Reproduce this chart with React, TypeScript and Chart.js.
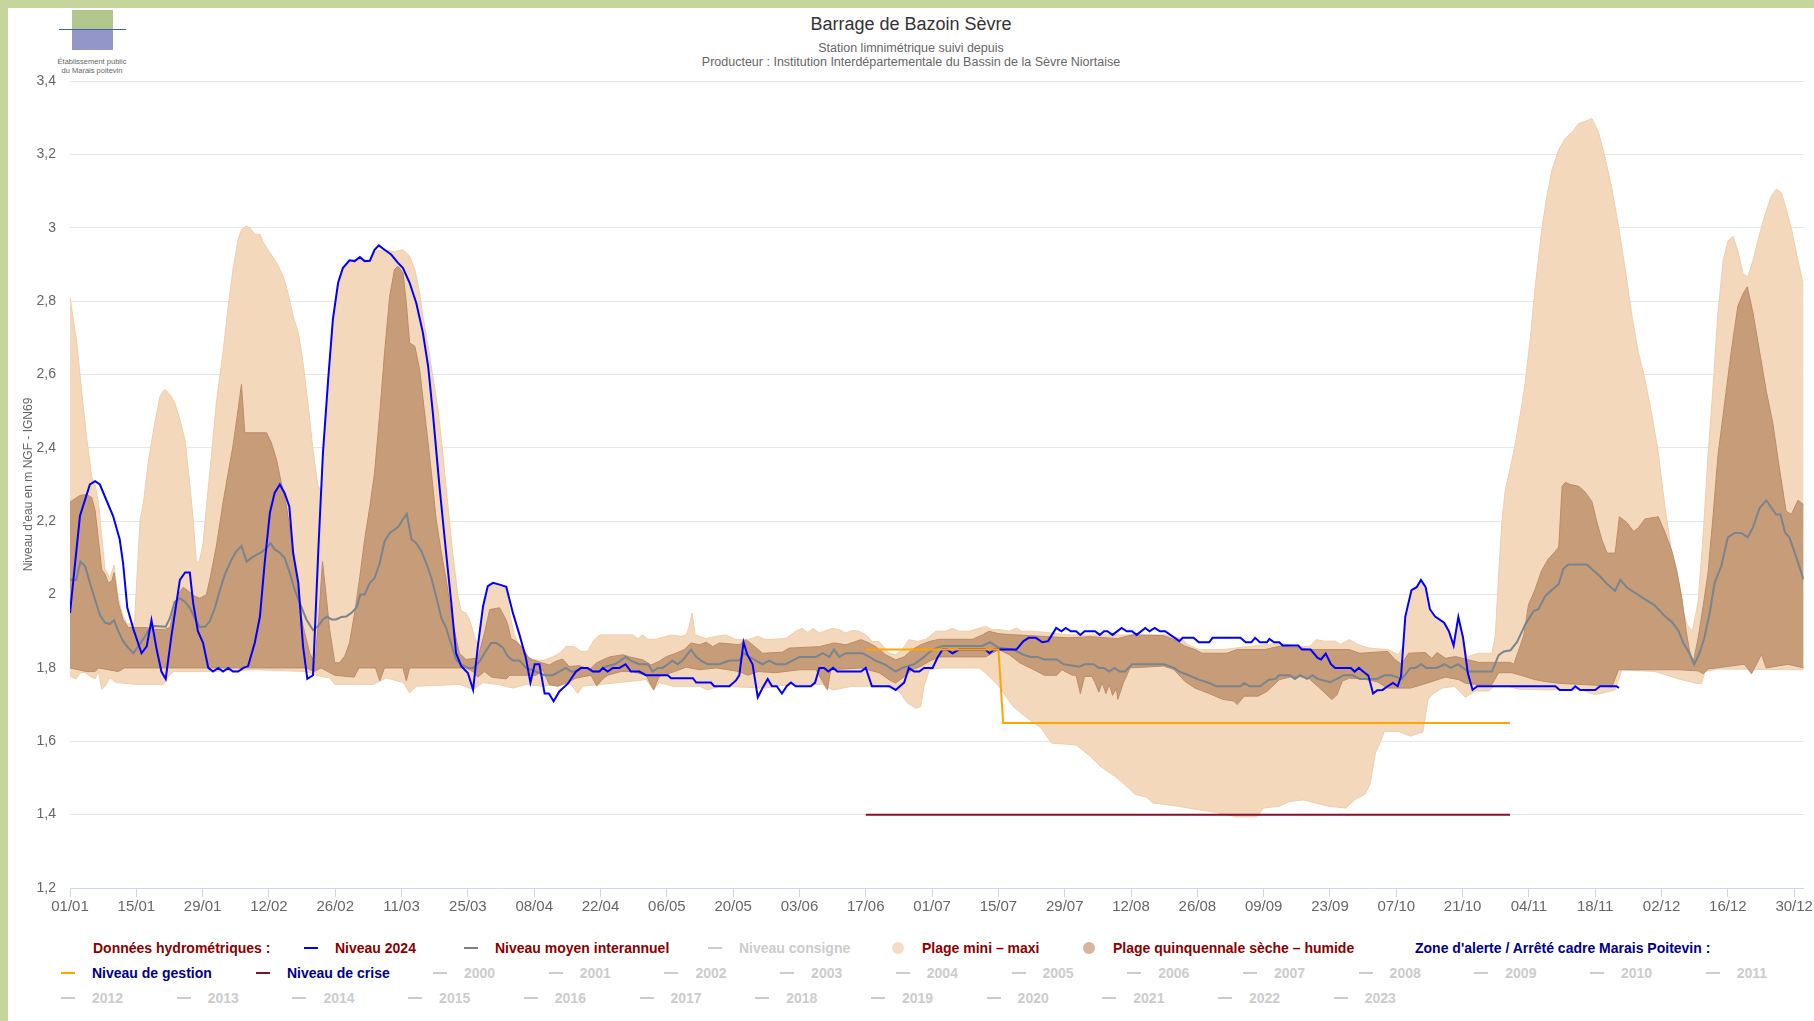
import React, { useEffect, useRef } from 'react';
import { Chart, registerables } from 'chart.js';

Chart.register(...registerables);

const FONT = "'Liberation Sans', Arial, sans-serif";

// ---------- DATA ----------
const xTickLabels = ['01/01', '15/01', '29/01', '12/02', '26/02', '11/03', '25/03', '08/04', '22/04', '06/05', '20/05', '03/06', '17/06', '01/07', '15/07', '29/07', '12/08', '26/08', '09/09', '23/09', '07/10', '21/10', '04/11', '18/11', '02/12', '16/12', '30/12'];
const yTickValues = [1.2, 1.4, 1.6, 1.8, 2, 2.2, 2.4, 2.6, 2.8, 3, 3.2, 3.4];

// [day of year 2024, level m NGF]
const niveau2024: [number, number][] = [[0,1.95],[2.1,2.214],[4.2,2.30],[5.3,2.309],[6.3,2.30],[9.1,2.214],[10.5,2.15],[11.2,2.086],[12.1,1.964],[13.4,1.905],[15.1,1.84],[16.2,1.859],[17.2,1.93],[18.3,1.85],[19.3,1.79],[20.2,1.77],[21.4,1.886],[23.2,2.04],[24.3,2.06],[25.3,2.06],[26,1.977],[27,1.90],[28.1,1.868],[29.2,1.80],[30.2,1.79],[31.3,1.80],[32.3,1.79],[33.4,1.80],[34.4,1.79],[35.5,1.79],[36.6,1.80],[37.6,1.805],[39,1.868],[40.1,1.94],[41.1,2.086],[42.2,2.223],[43.2,2.277],[44.3,2.30],[45.3,2.277],[46.3,2.24],[47.1,2.114],[48.2,2.032],[49.2,1.859],[50.1,1.77],[51.3,1.78],[52.4,2.114],[53.4,2.386],[54.5,2.586],[55.5,2.75],[56.6,2.85],[57.6,2.89],[59,2.911],[60.1,2.909],[61.2,2.92],[62.2,2.909],[63.3,2.91],[64.3,2.94],[65.2,2.952],[66.4,2.94],[67.8,2.927],[69.2,2.905],[70.3,2.89],[71.7,2.85],[73.1,2.795],[74.5,2.714],[75.6,2.623],[76.6,2.495],[78,2.295],[79.4,2.114],[80.5,1.977],[81.5,1.84],[82.6,1.805],[84,1.786],[85.1,1.74],[86.1,1.859],[87.2,1.968],[88.2,2.023],[89.3,2.032],[90.7,2.027],[92.1,2.021],[93.5,1.95],[94.9,1.89],[96.2,1.83],[97.2,1.76],[98.1,1.81],[99.1,1.81],[100.2,1.73],[101.1,1.73],[102.1,1.709],[103.3,1.736],[105.1,1.757],[106.8,1.79],[107.9,1.80],[109.3,1.80],[110.4,1.79],[111.8,1.79],[112.5,1.80],[113.5,1.79],[114.6,1.80],[116,1.80],[117.3,1.81],[118.4,1.79],[120.2,1.79],[121.6,1.78],[126.2,1.78],[126.9,1.772],[131.5,1.772],[132.2,1.76],[135.3,1.76],[136,1.75],[139.2,1.75],[140.6,1.766],[141.3,1.78],[142.2,1.87],[143,1.836],[144.1,1.81],[145.2,1.72],[146.2,1.745],[147.3,1.77],[148.2,1.75],[149.2,1.75],[150.3,1.73],[151.3,1.75],[152.2,1.76],[153.2,1.75],[156.4,1.75],[157.3,1.76],[158.2,1.80],[159.2,1.80],[160.1,1.79],[161.1,1.80],[162,1.79],[167,1.79],[168,1.80],[169.3,1.75],[173,1.75],[174.3,1.74],[176.1,1.76],[177.1,1.80],[178.2,1.79],[179.3,1.79],[180.3,1.80],[182.1,1.80],[183.1,1.827],[184.2,1.85],[185.2,1.85],[186.3,1.84],[187.7,1.85],[193.3,1.85],[194.1,1.84],[195.1,1.85],[199.8,1.85],[201.3,1.873],[202.4,1.882],[203.9,1.882],[205.3,1.87],[206.5,1.873],[207.2,1.888],[208.2,1.909],[209.3,1.90],[210.2,1.909],[211.3,1.90],[212.4,1.90],[213.3,1.89],[214.2,1.90],[216.4,1.90],[217.4,1.89],[218.3,1.90],[219,1.90],[220.1,1.89],[222,1.909],[223.1,1.90],[224.2,1.90],[225.2,1.89],[227,1.909],[227.9,1.90],[229,1.909],[230.1,1.90],[231.2,1.90],[234.2,1.873],[234.9,1.882],[237.2,1.882],[238.3,1.87],[240.5,1.87],[241.2,1.882],[247.1,1.882],[248.2,1.87],[249.4,1.87],[250.2,1.882],[251.2,1.87],[252.7,1.87],[253.2,1.879],[254.2,1.87],[255.3,1.87],[256,1.861],[259.3,1.861],[260.1,1.85],[261.9,1.85],[263.4,1.827],[264.1,1.823],[265.1,1.839],[266.2,1.81],[267.1,1.80],[270.4,1.80],[271.2,1.79],[272.1,1.80],[273,1.79],[274.1,1.779],[275.1,1.73],[276,1.739],[277.1,1.74],[278.2,1.75],[279.3,1.759],[280.3,1.75],[281,1.777],[281.9,1.94],[283.2,2.012],[284.3,2.02],[285.2,2.04],[286.2,2.02],[287.1,1.96],[288.2,1.94],[290.1,1.923],[291.1,1.90],[292.1,1.861],[293.1,1.939],[294.1,1.882],[295.1,1.786],[296.1,1.74],[297.1,1.75],[313.6,1.75],[314.5,1.74],[317,1.74],[317.8,1.75],[318.8,1.74],[322,1.74],[323,1.75],[326.5,1.75],[327,1.745]];

const niveauMoyen: [number, number][] = [[0,2.04],[1.3,2.04],[2.2,2.09],[3.2,2.077],[4.2,2.032],[5.3,1.986],[6.3,1.945],[7.4,1.923],[8.4,1.92],[9.3,1.93],[10.2,1.90],[11.2,1.873],[12.3,1.855],[13.4,1.84],[14.4,1.859],[15.5,1.879],[16.9,1.909],[17.9,1.914],[20.2,1.912],[21.1,1.936],[22.1,1.98],[23.2,1.99],[24.3,1.98],[25.3,1.964],[26.4,1.934],[27.3,1.912],[28.5,1.912],[29.5,1.927],[30.6,1.964],[31.6,2.01],[32.7,2.055],[34.1,2.095],[35.1,2.118],[36.2,2.132],[37.3,2.09],[38.3,2.10],[39.4,2.109],[40.4,2.115],[41.5,2.127],[42.3,2.14],[43.2,2.123],[44.3,2.114],[45.3,2.10],[46.4,2.059],[47.4,2.014],[48.5,1.977],[49.9,1.932],[51.3,1.903],[52.4,1.914],[53.4,1.932],[54.3,1.94],[55.2,1.932],[56.2,1.932],[57.3,1.939],[58.3,1.94],[59.4,1.95],[60.5,1.965],[61.3,2.0],[62.2,2.0],[63.3,2.032],[64.3,2.045],[65.4,2.086],[66.4,2.145],[67.5,2.168],[68.5,2.177],[69.4,2.186],[70.3,2.205],[71.1,2.22],[72.1,2.15],[73.1,2.14],[74.2,2.118],[75.2,2.086],[76.3,2.045],[77.3,1.995],[78.4,1.936],[79.4,1.909],[80.5,1.864],[81.5,1.823],[82.6,1.809],[84,1.80],[85.1,1.80],[86.5,1.818],[87.5,1.84],[88.9,1.868],[90,1.868],[91.4,1.855],[92.4,1.832],[93.5,1.82],[94.9,1.82],[96.3,1.80],[97.4,1.795],[100.2,1.78],[101.9,1.78],[103.3,1.79],[104.7,1.80],[105.8,1.79],[106.8,1.79],[107.9,1.80],[109,1.80],[110.4,1.79],[111.4,1.79],[113.2,1.804],[115,1.81],[116,1.818],[117.3,1.83],[118.4,1.82],[120.2,1.81],[122,1.81],[123,1.79],[124.1,1.80],[125.1,1.80],[126.2,1.81],[127.2,1.82],[128.3,1.81],[129.3,1.82],[131.1,1.85],[132.2,1.83],[133.2,1.82],[134.6,1.81],[137.1,1.81],[139.2,1.82],[141.3,1.82],[142.3,1.84],[143.4,1.83],[144.8,1.82],[146.2,1.81],[147.6,1.82],[149,1.81],[151.1,1.81],[152.5,1.82],[154,1.83],[157.5,1.83],[158.9,1.84],[160.3,1.83],[161.3,1.85],[162.4,1.83],[163.8,1.84],[167.3,1.84],[168.7,1.83],[170.1,1.82],[171.9,1.81],[174.3,1.79],[175.7,1.80],[178.2,1.81],[180.3,1.83],[182.1,1.85],[184.2,1.86],[192.6,1.86],[194.2,1.87],[195.4,1.86],[196.1,1.855],[199.1,1.85],[201.3,1.836],[202.8,1.83],[204.2,1.83],[205.7,1.823],[208.3,1.823],[209.8,1.81],[213.1,1.803],[214.2,1.81],[216.1,1.81],[217.2,1.80],[218.3,1.80],[219.4,1.79],[220.5,1.80],[221.6,1.79],[222.7,1.79],[224.2,1.81],[230.9,1.81],[233.1,1.80],[234.2,1.79],[236.2,1.78],[238.3,1.768],[240.5,1.759],[242,1.75],[247.1,1.75],[247.9,1.759],[249,1.75],[251.2,1.75],[253.1,1.768],[254.5,1.77],[255.3,1.78],[257.5,1.78],[258.6,1.77],[259.7,1.78],[261.2,1.77],[262.3,1.78],[263.4,1.77],[266,1.761],[267.5,1.77],[268.9,1.78],[270.8,1.78],[272.3,1.77],[276,1.77],[277.5,1.78],[279,1.78],[281.2,1.77],[283,1.80],[284.1,1.80],[285.2,1.81],[286.3,1.80],[288.5,1.80],[290.2,1.81],[291.5,1.80],[293,1.81],[295.2,1.79],[300.2,1.79],[301.6,1.835],[302.7,1.845],[304.1,1.848],[305.5,1.871],[307.2,1.918],[309,1.955],[310,1.96],[311.5,1.997],[312.9,2.013],[314.3,2.029],[315.3,2.071],[316.4,2.082],[320.2,2.082],[323,2.05],[324.5,2.029],[326.2,2.01],[327.3,2.04],[328.7,2.019],[331.8,1.993],[334.6,1.97],[336.7,1.941],[338.2,1.925],[339.6,1.90],[340.5,1.87],[341.9,1.84],[342.9,1.81],[344,1.84],[345,1.88],[346.2,1.952],[347.2,2.032],[348.6,2.077],[350,2.156],[351.4,2.168],[352.8,2.168],[354.2,2.156],[355.3,2.183],[356.7,2.236],[358.1,2.257],[360.2,2.218],[361.1,2.218],[362.1,2.168],[363,2.156],[364.4,2.103],[366,2.041]];

const plageMax: [number, number][] = [[0,2.81],[1.4,2.69],[2.5,2.55],[3.5,2.43],[4.6,2.32],[5.3,2.30],[6,2.25],[7,2.12],[7.4,2.07],[8.4,2.045],[9.3,2.08],[10.2,1.99],[11.2,1.94],[12.1,1.92],[13.6,1.92],[14.8,2.205],[15.5,2.25],[16.5,2.36],[17.9,2.468],[19,2.54],[20,2.56],[21.1,2.545],[22.1,2.523],[23.2,2.477],[24.3,2.42],[25.3,2.30],[26,2.205],[26.7,2.086],[27.4,2.095],[28.1,2.14],[28.8,2.24],[29.9,2.386],[30.9,2.523],[32.3,2.66],[33.4,2.786],[34.4,2.886],[35.5,2.968],[36.2,2.995],[37.3,3.005],[38.3,2.995],[39,2.982],[40.1,2.982],[40.8,2.96],[42.2,2.932],[43.6,2.905],[45,2.868],[46,2.823],[47.1,2.76],[48.2,2.714],[49.2,2.632],[50.3,2.514],[51.3,2.395],[52.3,2.30],[53,2.28],[53.4,2.386],[54.5,2.586],[55.5,2.75],[56.6,2.85],[57.6,2.89],[59,2.91],[61.2,2.915],[63.3,2.91],[64.3,2.935],[66.4,2.94],[68.5,2.935],[70.3,2.94],[71.7,2.923],[72.8,2.886],[73.8,2.823],[74.5,2.76],[75.6,2.677],[76.6,2.595],[77.7,2.505],[78.7,2.386],[79.8,2.24],[80.8,2.114],[81.9,1.995],[82.6,1.955],[83.6,1.95],[84.4,1.93],[85.4,1.886],[86.1,1.86],[87.2,1.968],[88.2,2.023],[89.3,2.032],[90.7,2.027],[92.1,2.021],[92.8,1.95],[93.8,1.89],[94.9,1.86],[95.6,1.84],[96.7,1.825],[99.1,1.82],[100.2,1.822],[101.9,1.83],[103.3,1.84],[104.7,1.858],[106.5,1.858],[107.9,1.845],[109.3,1.845],[110.4,1.872],[111.4,1.886],[112.1,1.89],[118.8,1.89],[119.9,1.88],[120.9,1.89],[122,1.878],[123.7,1.878],[125.8,1.886],[127.2,1.89],[129,1.886],[130.1,1.89],[130.7,1.913],[131.3,1.95],[132,1.89],[134.3,1.88],[136.4,1.886],[138.5,1.89],[140.6,1.877],[143.1,1.877],[145.2,1.886],[146.9,1.877],[151.1,1.88],[153.2,1.90],[154.6,1.908],[155.7,1.896],[156.8,1.908],[158.2,1.895],[159.6,1.902],[161,1.908],[162.4,1.904],[163.8,1.895],[165.2,1.902],[166.6,1.90],[168,1.89],[169.4,1.872],[170.8,1.872],[172.9,1.84],[174.3,1.836],[175.7,1.85],[177.1,1.877],[178.9,1.872],[180.7,1.878],[182.8,1.90],[184.9,1.90],[186.3,1.908],[187.7,1.90],[189.8,1.90],[191.9,1.908],[193.3,1.913],[194.7,1.904],[196.1,1.905],[198.3,1.90],[199.8,1.909],[200.9,1.90],[203.5,1.90],[207.2,1.895],[210.9,1.89],[231.6,1.89],[234.6,1.88],[236,1.864],[238.3,1.85],[243.4,1.85],[247.9,1.857],[253,1.864],[255.3,1.868],[259.7,1.857],[261.9,1.86],[263,1.877],[264.9,1.873],[267.1,1.873],[268.2,1.864],[270.1,1.877],[271.9,1.864],[273.8,1.855],[276,1.852],[278.2,1.85],[280.4,1.836],[281.5,1.86],[281.9,1.94],[283.2,2.012],[284.3,2.02],[285.2,2.04],[286.2,2.02],[287.1,1.96],[288.2,1.94],[290.1,1.923],[291.1,1.90],[292.1,1.861],[293.1,1.939],[294.1,1.882],[294.9,1.83],[297.4,1.84],[300.2,1.84],[300.9,1.888],[301.6,2.055],[302.3,2.20],[303,2.285],[304.1,2.347],[305.1,2.41],[306.2,2.493],[307.2,2.577],[308.3,2.70],[309.3,2.837],[310.7,2.994],[311.8,3.088],[312.9,3.16],[314.3,3.213],[315.7,3.244],[317.1,3.26],[318.5,3.284],[319.9,3.29],[321.3,3.298],[322.7,3.26],[324.1,3.19],[325.5,3.108],[326.9,3.004],[328.3,2.89],[329.7,2.764],[331.1,2.66],[332.5,2.587],[333.9,2.493],[335.3,2.389],[336.7,2.24],[338.2,2.11],[339.6,2.03],[340.5,1.96],[341.3,1.92],[342.5,1.90],[343.7,1.979],[344.8,2.165],[345.8,2.378],[346.9,2.573],[347.9,2.768],[349,2.91],[350,2.963],[351.1,2.977],[352.1,2.937],[353.2,2.875],[354.2,2.866],[355.3,2.91],[356.3,2.963],[357.8,3.034],[359.2,3.087],[360.2,3.105],[361.3,3.096],[362.3,3.052],[363.4,2.999],[364.8,2.91],[366,2.84]];

const plageMin: [number, number][] = [[0,1.777],[1.3,1.77],[2.1,1.786],[3.2,1.788],[4.2,1.777],[5.3,1.77],[6,1.79],[6.7,1.741],[7.4,1.75],[8.4,1.773],[9.8,1.76],[14.1,1.755],[19.7,1.755],[20.7,1.775],[21.8,1.79],[28.8,1.79],[39.4,1.795],[49.9,1.79],[52.7,1.777],[54.8,1.773],[55.9,1.755],[64,1.755],[66.8,1.773],[70.3,1.76],[71.7,1.732],[73.1,1.75],[82.2,1.755],[85.1,1.741],[87.2,1.76],[90.7,1.754],[93.5,1.745],[96.3,1.755],[99.8,1.75],[105.1,1.76],[106.1,1.75],[107.2,1.73],[108.3,1.75],[121.6,1.768],[123.2,1.74],[124.4,1.76],[127.2,1.75],[132.9,1.75],[134.6,1.74],[137.1,1.75],[146.9,1.745],[149,1.75],[152.5,1.755],[158.9,1.755],[161,1.74],[165.2,1.75],[172.2,1.75],[175,1.736],[176.8,1.704],[178.6,1.69],[179.6,1.695],[180.3,1.75],[181.4,1.795],[184.2,1.80],[189.1,1.80],[191.9,1.80],[193.3,1.786],[196.1,1.75],[199.1,1.695],[202,1.664],[205,1.636],[207.2,1.595],[212.4,1.59],[215.3,1.56],[217.5,1.532],[220.5,1.505],[222.7,1.482],[224.9,1.455],[227.2,1.448],[228.6,1.432],[233.8,1.423],[237.5,1.415],[242,1.406],[246.4,1.394],[250.5,1.394],[252,1.418],[255.3,1.423],[257.5,1.436],[260.4,1.44],[265.6,1.423],[269.3,1.418],[271.5,1.443],[273.4,1.455],[274.5,1.486],[275.6,1.568],[276.7,1.60],[277.5,1.627],[280.4,1.627],[283,1.614],[285.6,1.625],[286.7,1.714],[287.8,1.73],[289.7,1.745],[292.3,1.75],[294.6,1.72],[296.7,1.737],[299.5,1.737],[300.9,1.753],[303,1.753],[305.8,1.742],[311.4,1.74],[318.5,1.742],[322,1.727],[326.2,1.74],[327.6,1.795],[334.6,1.79],[339.6,1.77],[343.7,1.757],[344.4,1.757],[345.2,1.79],[347.9,1.797],[366,1.795]];

const quinqHumide: [number, number][] = [[0,2.252],[2.1,2.27],[3.5,2.273],[4.6,2.264],[5.3,2.23],[6,2.15],[6.7,2.068],[7.4,2.055],[8.1,2.032],[8.8,2.036],[9.3,2.06],[10.2,1.977],[11.2,1.932],[12.3,1.91],[16,1.91],[18,1.905],[20,1.905],[21.1,1.91],[21.8,1.95],[22.8,2.0],[23.9,2.02],[26.4,1.995],[27.4,1.99],[28.8,2.0],[29.5,2.04],[30.9,2.132],[32.3,2.25],[33.4,2.332],[34.4,2.405],[35.5,2.505],[36.2,2.573],[36.9,2.441],[41.5,2.441],[42.5,2.414],[43.6,2.368],[44.6,2.305],[45.7,2.24],[47.1,2.123],[48.2,1.995],[49.2,1.914],[50.6,1.84],[51.7,1.814],[52.6,1.95],[53.3,2.09],[54.1,1.995],[54.8,1.905],[55.9,1.814],[56.9,1.814],[58,1.832],[59,1.868],[60.1,1.95],[61.2,2.05],[62.2,2.15],[63.3,2.24],[64.3,2.332],[65.4,2.495],[66.4,2.659],[67.5,2.814],[68.5,2.886],[69.2,2.895],[70.3,2.877],[71,2.795],[71.7,2.686],[72.8,2.677],[73.8,2.614],[75.2,2.459],[76.3,2.332],[77.3,2.205],[78.4,2.114],[79.4,2.041],[80.8,1.923],[82.2,1.84],[83.6,1.823],[86.1,1.827],[87.5,1.895],[88.6,1.959],[90.7,1.964],[91.7,1.94],[92.4,1.92],[93.1,1.88],[94.2,1.872],[95.6,1.854],[96.7,1.83],[97.7,1.822],[99.8,1.813],[101.2,1.808],[102.6,1.818],[104,1.824],[105.4,1.804],[107.6,1.806],[109.7,1.795],[111.1,1.813],[112.5,1.822],[113.9,1.83],[116.8,1.836],[118.1,1.83],[120.9,1.822],[122.7,1.808],[124.4,1.818],[125.8,1.83],[127.9,1.84],[129.7,1.85],[131.1,1.868],[132.9,1.863],[134.3,1.87],[135.7,1.858],[137.1,1.868],[141.3,1.863],[142.7,1.877],[144.1,1.863],[146.2,1.84],[150.4,1.843],[151.8,1.854],[158.2,1.858],[161.3,1.868],[163.8,1.863],[167,1.877],[168.7,1.868],[170.1,1.858],[172.2,1.836],[174.3,1.822],[176.1,1.83],[177.8,1.85],[179.6,1.863],[181.4,1.872],[183.5,1.878],[190.5,1.878],[192.6,1.89],[194,1.90],[196.1,1.893],[199.8,1.89],[210.9,1.882],[215.3,1.885],[221.2,1.88],[224.2,1.89],[230.9,1.888],[233.1,1.877],[235.3,1.86],[237.5,1.85],[239,1.84],[244.2,1.84],[246.4,1.85],[252.3,1.85],[255.3,1.859],[259.7,1.855],[261.9,1.85],[270.1,1.85],[272.3,1.84],[278.2,1.845],[279.7,1.823],[281.1,1.81],[282.6,1.84],[286.1,1.842],[287.5,1.826],[288.6,1.842],[290.4,1.826],[292.5,1.831],[294.6,1.824],[297.4,1.815],[304.1,1.815],[304.8,1.81],[305.8,1.847],[306.9,1.888],[307.9,1.972],[309.3,2.014],[310.7,2.066],[312.1,2.097],[313.6,2.118],[314.3,2.13],[315,2.295],[315.7,2.306],[316.7,2.30],[318.5,2.295],[319.9,2.279],[321.3,2.253],[322.3,2.20],[323.4,2.149],[324.5,2.113],[326.2,2.113],[327.1,2.212],[328.7,2.196],[330.1,2.172],[331.1,2.182],[332.5,2.206],[335.3,2.212],[336.7,2.17],[338.2,2.118],[339.2,2.066],[340.3,1.99],[341.2,1.90],[342,1.84],[342.6,1.81],[343.7,1.88],[344.8,1.97],[345.8,2.058],[346.9,2.218],[347.9,2.378],[349.3,2.52],[350.7,2.662],[352.1,2.786],[353.2,2.82],[354.1,2.839],[355.3,2.768],[356.7,2.662],[358.1,2.555],[359.5,2.466],[360.9,2.342],[362.3,2.227],[363.4,2.219],[364.8,2.257],[366,2.245]];

const quinqSeche: [number, number][] = [[0,1.80],[3.5,1.79],[5.3,1.79],[6,1.80],[10.2,1.79],[11.5,1.80],[25,1.80],[50,1.80],[51.5,1.79],[53,1.80],[55.9,1.78],[60,1.775],[61,1.80],[64.5,1.80],[65.4,1.765],[66.4,1.80],[70.3,1.80],[71,1.765],[71.7,1.80],[83.6,1.80],[85.1,1.79],[86.1,1.775],[87.5,1.79],[89,1.775],[92.1,1.77],[92.8,1.78],[98.4,1.78],[99.8,1.795],[101.2,1.754],[103,1.75],[104.7,1.758],[106.8,1.772],[110,1.78],[111.2,1.751],[112.5,1.77],[113.5,1.78],[116.3,1.79],[118.8,1.79],[121.6,1.78],[123.2,1.74],[124.4,1.777],[127.6,1.79],[130.1,1.802],[132.9,1.795],[136.4,1.80],[141.3,1.79],[143.1,1.78],[145.2,1.79],[149,1.787],[154,1.795],[157.5,1.795],[159.9,1.74],[160.6,1.795],[167,1.80],[170.8,1.787],[172.9,1.768],[174.3,1.759],[175.7,1.772],[177.8,1.795],[179.6,1.804],[181.4,1.818],[183.5,1.83],[193.3,1.83],[196.1,1.85],[198.3,1.836],[200.5,1.814],[203.5,1.795],[205.7,1.78],[208.3,1.78],[209.4,1.795],[211.6,1.78],[212.4,1.78],[213.3,1.73],[214.2,1.777],[215.7,1.777],[216.4,1.76],[217.2,1.734],[217.9,1.76],[218.7,1.73],[219.4,1.755],[220.1,1.725],[220.9,1.745],[221.2,1.714],[222.4,1.76],[223.8,1.80],[230.9,1.805],[233.1,1.795],[235.3,1.764],[237.5,1.745],[240.5,1.73],[243.4,1.714],[245.7,1.71],[246.4,1.70],[247.9,1.723],[250.8,1.723],[252.7,1.736],[255.3,1.768],[258.2,1.777],[261.2,1.775],[263.4,1.75],[265.3,1.727],[266.4,1.714],[267.5,1.727],[268.6,1.764],[270.1,1.772],[273,1.77],[276,1.762],[278.2,1.745],[283,1.745],[285.6,1.755],[290.4,1.775],[293.2,1.768],[294.6,1.758],[298.8,1.753],[300.2,1.755],[301.6,1.787],[304.4,1.787],[306.5,1.779],[309.3,1.768],[311.4,1.763],[314.3,1.758],[322,1.753],[325.5,1.748],[326.9,1.795],[334.6,1.795],[339.6,1.795],[343.7,1.792],[344.8,1.784],[345.8,1.797],[353.5,1.81],[355,1.784],[357.1,1.837],[358.1,1.80],[362.7,1.81],[366,1.80]];

const niveauGestion: [number, number][] = [[168,1.85],[196,1.85],[197,1.65],[304,1.65]];
const niveauCrise: [number, number][] = [[168,1.40],[304,1.40]];

const yearLabels = ['2000','2001','2002','2003','2004','2005','2006','2007','2008','2009','2010','2011','2012','2013','2014','2015','2016','2017','2018','2019','2020','2021','2022','2023'];

// ---------- STYLE ----------
const C = {
  blue: '#0000ff',
  grey: '#7a848e',
  peach: 'rgb(243,216,188)',
  peachLine: 'rgb(238,206,172)',
  brown: 'rgb(199,156,120)',
  brownLine: 'rgb(186,140,102)',
  orange: '#ffa500',
  crise: '#850f2c',
  darkRed: '#8b0000',
  navy: '#00008b',
  hidden: '#cccccc',
  green: '#c6d59c',
};

const toXY = (arr: [number, number][]) => arr.map(([x, y]) => ({ x, y }));
const dayOfYear = (label: string) => {
  const [d, m] = label.split('/').map(Number);
  return Math.round((Date.UTC(2024, m - 1, d) - Date.UTC(2024, 0, 1)) / 86400000);
};
const fmtY = (v: number) => String(Number(v.toFixed(1))).replace('.', ',');

type LegendItem = { text: string; row: number; symX?: number; textX: number; sym?: 'line' | 'circle'; symColor?: string; color: string };

function buildLegend(): LegendItem[] {
  const items: LegendItem[] = [
    { text: 'Données hydrométriques :', row: 0, textX: 85, color: C.darkRed },
    { text: 'Niveau 2024', row: 0, symX: 303, textX: 327, sym: 'line', symColor: C.blue, color: C.darkRed },
    { text: 'Niveau moyen interannuel', row: 0, symX: 463, textX: 487, sym: 'line', symColor: '#808080', color: C.darkRed },
    { text: 'Niveau consigne', row: 0, symX: 707, textX: 731, sym: 'line', symColor: C.hidden, color: C.hidden },
    { text: 'Plage mini – maxi', row: 0, symX: 890, textX: 914, sym: 'circle', symColor: '#f6dec6', color: C.darkRed },
    { text: 'Plage quinquennale sèche – humide', row: 0, symX: 1081, textX: 1105, sym: 'circle', symColor: '#d7b69d', color: C.darkRed },
    { text: "Zone d'alerte / Arrêté cadre Marais Poitevin :", row: 0, textX: 1407, color: C.navy },
    { text: 'Niveau de gestion', row: 1, symX: 60, textX: 84, sym: 'line', symColor: C.orange, color: C.navy },
    { text: 'Niveau de crise', row: 1, symX: 255, textX: 279, sym: 'line', symColor: C.crise, color: C.navy },
  ];
  yearLabels.forEach((y, i) => {
    const row = i < 12 ? 1 : 2;
    const base = i < 12 ? 432 : 60;
    const k = i < 12 ? i : i - 12;
    const symX = base + k * 115.7;
    items.push({ text: y, row, symX, textX: symX + 24, sym: 'line', symColor: C.hidden, color: C.hidden });
  });
  return items;
}

const ROW_Y = [940, 965, 990];

export default function App() {
  const ref = useRef<HTMLCanvasElement>(null);

  useEffect(() => {
    const canvas = ref.current;
    if (!canvas) return;
    const xTickDays = xTickLabels.map(dayOfYear);
    const chart = new Chart(canvas, {
      type: 'line',
      data: {
        datasets: [
          { label: 'Plage mini – maxi (max)', data: toXY(plageMax), fill: '+1', backgroundColor: C.peach, borderColor: C.peachLine, borderWidth: 1, pointRadius: 0, order: 10 },
          { label: 'Plage mini – maxi (min)', data: toXY(plageMin), fill: false, borderColor: C.peachLine, borderWidth: 1, pointRadius: 0, order: 9 },
          { label: 'Plage quinquennale (humide)', data: toXY(quinqHumide), fill: '+1', backgroundColor: C.brown, borderColor: C.brownLine, borderWidth: 1, pointRadius: 0, order: 8 },
          { label: 'Plage quinquennale (sèche)', data: toXY(quinqSeche), fill: false, borderColor: C.brownLine, borderWidth: 1, pointRadius: 0, order: 7 },
          { label: 'Niveau moyen interannuel', data: toXY(niveauMoyen), fill: false, borderColor: C.grey, borderWidth: 2, pointRadius: 0, order: 4 },
          { label: 'Niveau 2024', data: toXY(niveau2024), fill: false, borderColor: C.blue, borderWidth: 2, pointRadius: 0, order: 3 },
          { label: 'Niveau de gestion', data: toXY(niveauGestion), fill: false, borderColor: C.orange, borderWidth: 2, pointRadius: 0, order: 2 },
          { label: 'Niveau de crise', data: toXY(niveauCrise), fill: false, borderColor: C.crise, borderWidth: 2, pointRadius: 0, order: 1 },
        ],
      },
      options: {
        animation: false,
        responsive: false,
        devicePixelRatio: 1,
        layout: { padding: { top: 73, right: 8, left: 0, bottom: 0 } },
        plugins: { legend: { display: false }, tooltip: { enabled: false }, title: { display: false } },
        elements: { point: { radius: 0 }, line: { tension: 0 } },
        scales: {
          x: {
            type: 'linear',
            min: 0,
            max: 366,
            afterFit: (s: any) => { s.height = 50; },
            afterBuildTicks: (s: any) => { s.ticks = xTickDays.map((v) => ({ value: v })); },
            grid: { drawOnChartArea: false, drawTicks: true, tickLength: 9, color: '#ccd6eb' },
            border: { display: true, color: '#ccd6eb' },
            ticks: {
              autoSkip: false, maxRotation: 0, minRotation: 0, padding: 1, color: '#666666',
              font: { family: FONT, size: 15 },
              callback: (_v: any, i: number) => xTickLabels[i],
            },
          },
          y: {
            min: 1.2,
            max: 3.4,
            afterFit: (s: any) => { s.width = 62; },
            afterBuildTicks: (s: any) => { s.ticks = yTickValues.map((v) => ({ value: v })); },
            grid: { color: '#e6e6e6', drawTicks: false },
            border: { display: false },
            ticks: { padding: 14, color: '#666666', font: { family: FONT, size: 14 }, callback: (v: any) => fmtY(Number(v)) },
            title: { display: true, text: "Niveau d'eau en m NGF - IGN69", color: '#666666', font: { family: FONT, size: 12 }, padding: { top: 13, bottom: 0 } },
          },
        },
      } as any,
    });
    return () => chart.destroy();
  }, []);

  const legend = buildLegend();

  return (
    <div style={{ position: 'fixed', inset: 0, background: C.green }}>
      <div style={{ position: 'absolute', left: 8, top: 8, right: 0, bottom: 0, background: '#ffffff', overflow: 'hidden', fontFamily: FONT }}>
        {/* logo */}
        <div style={{ position: 'absolute', left: 64, top: 2, width: 41, height: 20, background: '#b3c68c' }} />
        <div style={{ position: 'absolute', left: 64, top: 21.5, width: 41, height: 20, background: '#9297c8' }} />
        <div style={{ position: 'absolute', left: 51, top: 20.5, width: 67, height: 1.5, background: '#3566ad' }} />
        <div style={{ position: 'absolute', left: 34, top: 49, width: 100, textAlign: 'center', fontSize: 7.5, lineHeight: '9px', color: '#666' }}>
          <div>Établissement public</div>
          <div>du Marais poitevin</div>
        </div>
        {/* titles */}
        <div style={{ position: 'absolute', left: 0, top: 5, width: 1806, textAlign: 'center', fontSize: 18, lineHeight: '22px', color: '#333333' }}>Barrage de Bazoin Sèvre</div>
        <div style={{ position: 'absolute', left: 0, top: 33, width: 1806, textAlign: 'center', fontSize: 12.5, lineHeight: '14px', color: '#666666' }}>Station limnimétrique suivi depuis</div>
        <div style={{ position: 'absolute', left: 0, top: 47, width: 1806, textAlign: 'center', fontSize: 12.5, lineHeight: '14px', color: '#666666' }}>Producteur : Institution Interdépartementale du Bassin de la Sèvre Niortaise</div>

        <canvas ref={ref} width={1806} height={930} style={{ position: 'absolute', left: 0, top: 0 }} />

        {/* legend */}
        {legend.map((it, i) => (
          <React.Fragment key={i}>
            {it.sym === 'line' && it.symX !== undefined && (
              <div style={{ position: 'absolute', left: it.symX - 7, top: ROW_Y[it.row] - 1, width: 14, height: 2, background: it.symColor }} />
            )}
            {it.sym === 'circle' && it.symX !== undefined && (
              <div style={{ position: 'absolute', left: it.symX - 6, top: ROW_Y[it.row] - 6, width: 12, height: 12, borderRadius: 6, background: it.symColor }} />
            )}
            <div style={{ position: 'absolute', left: it.textX, top: ROW_Y[it.row] - 10, height: 20, lineHeight: '20px', fontSize: 14, fontWeight: 'bold', color: it.color, whiteSpace: 'nowrap' }}>{it.text}</div>
          </React.Fragment>
        ))}
      </div>
    </div>
  );
}
